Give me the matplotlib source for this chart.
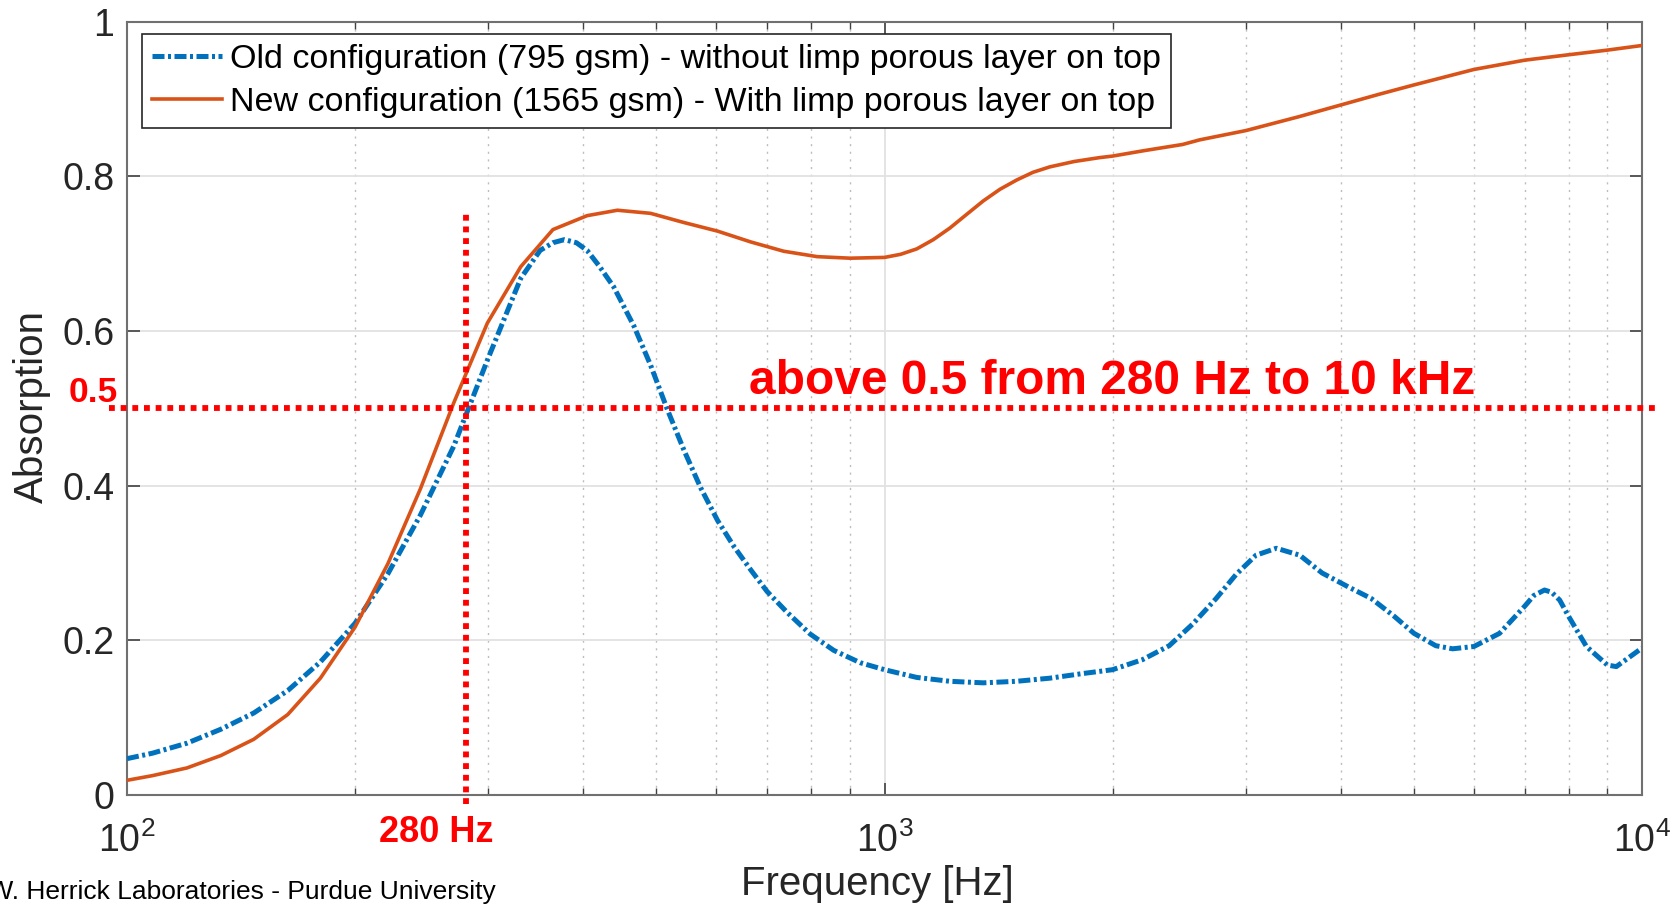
import matplotlib
matplotlib.use('Agg')
import matplotlib.pyplot as plt
from matplotlib.ticker import FixedLocator, FixedFormatter, NullFormatter

plt.rcParams['font.family'] = ['Liberation Sans', 'DejaVu Sans']
plt.rcParams['mathtext.fontset'] = 'custom'
plt.rcParams['mathtext.rm'] = 'Liberation Sans'
plt.rcParams['mathtext.it'] = 'Liberation Sans:italic'
plt.rcParams['mathtext.bf'] = 'Liberation Sans:bold'
plt.rcParams['mathtext.default'] = 'regular'

# absorption coefficient vs frequency, old layup (795 gsm)
freq_old = [100, 108, 120, 133, 147, 163, 180, 200, 221, 244, 270, 299, 331, 351,
            365, 378, 392, 405, 420, 439, 467, 491, 517, 544, 572, 602, 633, 666,
            700, 744, 798, 857, 929, 1000, 1103, 1220, 1350, 1494, 1652, 1826, 2000,
            2191, 2376, 2552, 2740, 2911, 3093, 3291, 3533, 3782, 4096, 4392, 4709,
            5000, 5343, 5623, 6000, 6486, 7000, 7200, 7436, 7600, 7786, 8000, 8446,
            9000, 9250, 10000]
abs_old = [0.047, 0.054, 0.067, 0.085, 0.106, 0.135, 0.172, 0.222, 0.286, 0.362,
           0.451, 0.562, 0.668, 0.704, 0.714, 0.718, 0.714, 0.704, 0.684, 0.657,
           0.606, 0.556, 0.498, 0.445, 0.397, 0.355, 0.321, 0.291, 0.263, 0.236,
           0.208, 0.187, 0.171, 0.162, 0.152, 0.147, 0.145, 0.147, 0.151, 0.157,
           0.162, 0.175, 0.193, 0.221, 0.254, 0.285, 0.310, 0.319, 0.310, 0.287,
           0.269, 0.254, 0.231, 0.209, 0.193, 0.189, 0.192, 0.209, 0.244, 0.258,
           0.265, 0.262, 0.252, 0.231, 0.192, 0.168, 0.166, 0.190]

# new layup with limp porous layer (1565 gsm)
freq_new = [100, 108, 120, 133, 147, 163, 180, 200, 221, 244, 270, 299, 331, 365,
            405, 444, 491, 544, 602, 666, 736, 815, 901, 1000, 1050, 1103, 1160,
            1220, 1285, 1350, 1420, 1494, 1570, 1652, 1780, 1922, 2000, 2200, 2474,
            2607, 3000, 3526, 4000, 4500, 5000, 6000, 7000, 8000, 9000, 10000]
abs_new = [0.019, 0.025, 0.035, 0.051, 0.072, 0.104, 0.151, 0.217, 0.299, 0.396,
           0.507, 0.610, 0.683, 0.731, 0.749, 0.756, 0.752, 0.740, 0.729, 0.715,
           0.703, 0.696, 0.694, 0.695, 0.699, 0.706, 0.718, 0.733, 0.751, 0.768,
           0.783, 0.795, 0.805, 0.812, 0.819, 0.824, 0.826, 0.833, 0.841, 0.847,
           0.859, 0.877, 0.892, 0.906, 0.918, 0.938, 0.950, 0.957, 0.963, 0.969]

label_old = 'Old configuration (795 gsm) - without limp porous layer on top'
label_new = 'New configuration (1565 gsm) - With limp porous layer on top'

cut_freq = 280
cut_abs = 0.5
vline_span = [-0.012, 0.757]
hline_span = [94.7, 10550]

y_ticks = [0, 0.2, 0.4, 0.6, 0.8, 1]
y_tick_labels = ['0', '0.2', '0.4', '0.6', '0.8', '1']
x_ticks = [1e2, 1e3, 1e4]
x_tick_labels = [r'$10^{2}$', r'$10^{3}$', r'$10^{4}$']
x_minor = [m * d for d in (100, 1000) for m in range(2, 10)]

W, H = 1671, 906


def px(x, y):
    # pixel position -> figure fraction
    return x / W, 1 - y / H


def main():
    fig = plt.figure(figsize=(W / 100, H / 100), dpi=100)
    ax = fig.add_axes([127 / W, 1 - 795 / H, (1642 - 127) / W, (795 - 21.5) / H])

    ax.plot(freq_old, abs_old, color='#0072BD', lw=3.6,
            dashes=(2.4, 0.7, 0.6, 0.7), label=label_old, zorder=3)
    ax.plot(freq_new, abs_new, color='#D95319', lw=2.6, label=label_new, zorder=3)

    red_style = dict(color='#ff0000', lw=4.2, ls=(0, (1, 1.0)),
                     dash_capstyle='butt', clip_on=False, zorder=4)
    ax.plot([cut_freq, cut_freq], vline_span, **red_style)
    ax.plot(hline_span, [cut_abs, cut_abs], **red_style)

    ax.set_xscale('log')
    ax.set_xlim(100, 1e4)
    ax.set_ylim(0, 1)

    ax.xaxis.set_major_locator(FixedLocator(x_ticks))
    ax.xaxis.set_major_formatter(FixedFormatter(x_tick_labels))
    ax.xaxis.set_minor_locator(FixedLocator(x_minor))
    ax.xaxis.set_minor_formatter(NullFormatter())
    ax.yaxis.set_major_locator(FixedLocator(y_ticks))
    ax.yaxis.set_major_formatter(FixedFormatter(y_tick_labels))

    ax.set_axisbelow(True)
    ax.grid(which='major', axis='both', color='#e2e2e2', lw=1.3, ls='-')
    ax.grid(which='minor', axis='x', color='#bdbdbd', lw=1.0, ls=(0, (1.5, 4)))

    ax.tick_params(which='both', direction='in', top=True, right=True,
                   color='#404040', labelcolor='#262626')
    ax.tick_params(which='major', length=9, width=1.2, labelsize=27)
    ax.tick_params(axis='y', which='major', pad=9)
    ax.tick_params(axis='x', which='major', pad=20)
    ax.tick_params(which='minor', length=5, width=1.0)
    for s in ax.spines.values():
        s.set_color('#707070')
        s.set_linewidth(1.5)

    leg = ax.legend(loc='upper left', bbox_to_anchor=px(142, 34),
                    bbox_transform=fig.transFigure, borderaxespad=0,
                    fontsize=24.5, handlelength=2.05, handletextpad=0.23,
                    borderpad=0.3, labelspacing=0.35, fancybox=False,
                    framealpha=1, edgecolor='#262626')
    leg.get_frame().set_linewidth(1.2)
    for t in leg.get_texts():
        t.set_color('#000000')

    fig.text(*px(32, 407), 'Absorption', rotation=90, ha='center', va='center',
             fontsize=29, color='#262626')
    fig.text(*px(877, 884), 'Frequency [Hz]', ha='center', va='center',
             fontsize=29, color='#262626')

    fig.text(*px(749, 394), 'above 0.5 from 280 Hz to 10 kHz', ha='left',
             va='baseline', fontsize=34.5, fontweight='bold', color='#ff0000')
    fig.text(*px(69, 402), '0.5', ha='left', va='baseline', fontsize=25.5,
             fontweight='bold', color='#ff0000')
    fig.text(*px(379, 842), '280 Hz', ha='left', va='baseline', fontsize=26,
             fontweight='bold', color='#ff0000')

    fig.text(*px(496, 899), 'Ray W. Herrick Laboratories - Purdue University',
             ha='right', va='baseline', fontsize=19, color='#000000')

    fig.savefig('out.png', dpi=100)


if __name__ == '__main__':
    main()
